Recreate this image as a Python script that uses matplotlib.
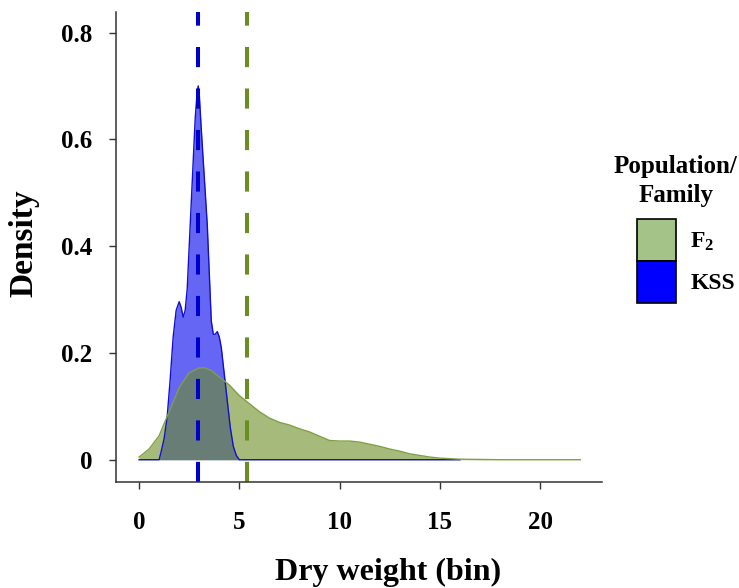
import matplotlib
matplotlib.use("Agg")
import matplotlib.pyplot as plt
from matplotlib.patches import Patch

plt.rcParams.update({
    "font.family": ["Liberation Serif", "DejaVu Serif"],
    "font.weight": "bold",
    "axes.linewidth": 1.1,
    "mathtext.fontset": "custom",
    "mathtext.rm": "Liberation Serif:bold",
    "mathtext.it": "Liberation Serif:bold",
    "mathtext.bf": "Liberation Serif:bold",
})

# density curves
kss_x = [0, 1.0, 1.1, 1.25, 1.4, 1.55, 1.7, 1.85, 2.0, 2.1, 2.2, 2.3, 2.4, 2.55,
         2.7, 2.8, 2.9, 2.95, 3.0, 3.1, 3.2, 3.3, 3.4, 3.5, 3.6, 3.7, 3.8, 3.9,
         4.0, 4.1, 4.25, 4.4, 4.55, 4.7, 4.85, 5.0, 16.0]
kss_y = [0, 0, 0.015, 0.04, 0.08, 0.15, 0.23, 0.28, 0.296, 0.285, 0.267, 0.28,
         0.32, 0.44, 0.56, 0.64, 0.69, 0.70, 0.685, 0.62, 0.56, 0.50, 0.44, 0.35,
         0.26, 0.235, 0.235, 0.24, 0.23, 0.21, 0.16, 0.11, 0.06, 0.025, 0.008, 0, 0]

f2_x = [0, 0.5, 1.0, 1.5, 2.0, 2.5, 3.0, 3.3, 3.6, 4.0, 4.5, 5.0, 5.5, 6.0, 6.5,
        7.0, 7.5, 8.0, 8.5, 9.0, 9.5, 10, 10.5, 11, 11.5, 12, 12.5, 13, 13.5,
        14, 14.5, 15, 16, 17, 18, 20, 22]
f2_y = [0.005, 0.02, 0.045, 0.09, 0.135, 0.163, 0.172, 0.172, 0.167, 0.155,
        0.14, 0.12, 0.105, 0.09, 0.078, 0.07, 0.065, 0.058, 0.052, 0.044, 0.036,
        0.035, 0.035, 0.033, 0.029, 0.025, 0.02, 0.016, 0.011, 0.008, 0.005,
        0.003, 0.001, 0.0005, 0, 0, 0]

kss_mean = 2.94
f2_mean = 5.37

x_ticks = [0, 5, 10, 15, 20]
y_ticks = [0, 0.2, 0.4, 0.6, 0.8]
y_ticklabels = ["0", "0.2", "0.4", "0.6", "0.8"]

COL_KSS = "#0000EE"
COL_F2 = "#6B8E23"

fig = plt.figure(figsize=(7.39, 5.88), dpi=100)
ax = fig.add_axes([0.157, 0.180, 0.658, 0.800])

ax.fill_between(kss_x, kss_y, color=COL_KSS, alpha=0.6, lw=0)
ax.plot(kss_x, kss_y, color="#1010CC", lw=1.0)
ax.fill_between(f2_x, f2_y, color=COL_F2, alpha=0.6, lw=0)
ax.plot(f2_x, f2_y, color="#7FA040", lw=1.0)

ax.axvline(kss_mean, color="#0000CC", lw=2.9, dashes=(5, 5.3))
ax.axvline(f2_mean, color="#6B8E23", lw=2.9, dashes=(5, 5.3))

ax.set_xlim(-1.15, 23.1)
ax.set_ylim(-0.042, 0.839)
ax.set_xticks(x_ticks)
ax.set_yticks(y_ticks)
ax.set_yticklabels(y_ticklabels)
for s in ["top", "right"]:
    ax.spines[s].set_visible(False)
for s in ["left", "bottom"]:
    ax.spines[s].set_color("#333333")
ax.tick_params(axis="both", colors="#333333", length=5, width=1.0, labelcolor="black")
ax.tick_params(axis="y", pad=12, labelsize=18)
ax.tick_params(axis="x", pad=16, labelsize=18)

ax.set_xlabel("Dry weight (bin)", fontsize=23, fontweight="bold")
ax.set_ylabel("Density", fontsize=24, fontweight="bold")
ax.xaxis.set_label_coords(0.56, -0.16)
ax.yaxis.set_label_coords(-0.158, 0.509)

fig.text(676 / 739, 1 - 155 / 588, "Population/\nFamily", ha="center", va="top",
         multialignment="center", fontsize=18, fontweight="bold", linespacing=1.35)

handles = [Patch(facecolor="#A3C389", edgecolor="black", lw=1.2),
           Patch(facecolor="#0000FF", edgecolor="black", lw=1.2)]
leg = fig.legend(handles, ["F$_2$", "KSS"],
                 loc="upper left", bbox_to_anchor=(637 / 739, 1 - 219 / 588), frameon=False,
                 fontsize=17, handlelength=1.65, handleheight=2.36, labelspacing=0,
                 handletextpad=0.6, borderaxespad=0, borderpad=0)
for t in leg.get_texts():
    t.set_fontweight("bold")

fig.savefig("out.png", dpi=100)
